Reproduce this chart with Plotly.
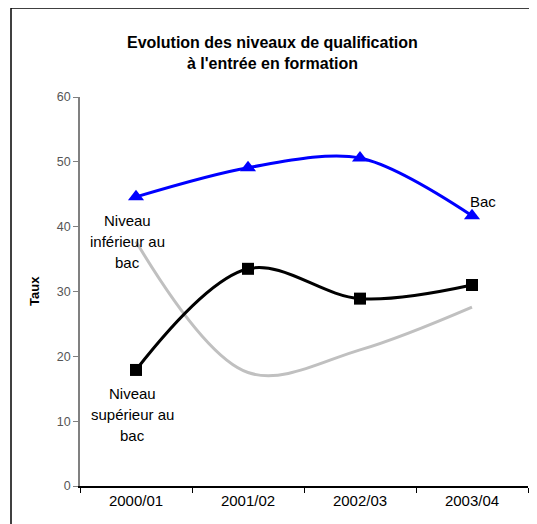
import plotly.graph_objects as go

categories = ["2000/01", "2001/02", "2002/03", "2003/04"]
bac = [44.6, 49.1, 50.6, 41.7]
sup_bac = [17.9, 33.5, 28.9, 31.0]
inf_bac = [37.7, 17.5, 21.0, 27.6]
y_ticks = [0, 10, 20, 30, 40, 50, 60]

# page body has an 8px margin; shift everything by that
OFF = 8
L, T, R, B = 80 - OFF, 97 - OFF, 9, 38
W, H = 537 - OFF, 524 - OFF
PW, PH = 448, 389

def px_x(p):
    return (p - 80) / PW

def px_y(p):
    return (486 - p) / PH

fig = go.Figure()
fig.add_trace(go.Scatter(x=categories, y=inf_bac, mode="lines",
                         line=dict(color="#c0c0c0", width=3, shape="spline", smoothing=1)))
fig.add_trace(go.Scatter(x=categories, y=sup_bac, mode="lines+markers",
                         line=dict(color="black", width=3, shape="spline", smoothing=1),
                         marker=dict(symbol="square", size=12, color="black")))
fig.add_trace(go.Scatter(x=categories, y=bac, mode="lines+markers",
                         line=dict(color="#0000ff", width=3, shape="spline", smoothing=0.9),
                         marker=dict(symbol="triangle-up", size=14, color="#0000ff")))

font = "Arial, Liberation Sans, sans-serif"
ann = []

def label(lines, xp, ys):
    for t, yp in zip(lines, ys):
        ann.append(dict(text=t, x=px_x(xp), xref="paper", y=px_y(yp), yref="paper",
                        showarrow=False, font=dict(family=font, size=15, color="black"),
                        xanchor="center", yanchor="middle"))

label(["Niveau", "inférieur au", "bac"], 127, [220, 241, 262])
label(["Niveau", "supérieur au", "bac"], 132, [393, 414, 435])
label(["Bac"], 483, [201])
ann.append(dict(text="<b>Taux</b>", x=px_x(34), xref="paper", y=px_y(291), yref="paper",
                showarrow=False, textangle=-90, font=dict(family=font, size=13, color="black"),
                xanchor="center", yanchor="middle"))
for t, yp in [("<b>Evolution des niveaux de qualification</b>", 42),
              ("<b>à l'entrée en formation</b>", 63)]:
    ann.append(dict(text=t, x=px_x(272), xref="paper", y=px_y(yp), yref="paper",
                    showarrow=False, font=dict(family=font, size=16, color="black"),
                    xanchor="center", yanchor="middle"))

shapes = [
    dict(type="line", xref="paper", yref="paper", x0=px_x(11), x1=px_x(545),
         y0=px_y(8), y1=px_y(8), line=dict(color="black", width=1.5)),
    dict(type="line", xref="paper", yref="paper", x0=px_x(11), x1=px_x(11),
         y0=px_y(8), y1=px_y(540), line=dict(color="black", width=1.5)),
]

fig.update_layout(
    width=W, height=H,
    margin=dict(l=L, r=R, t=T, b=B),
    paper_bgcolor="white", plot_bgcolor="white",
    showlegend=False,
    annotations=ann, shapes=shapes,
    font=dict(family=font),
    xaxis=dict(type="category", range=[-0.5, 3.5], showgrid=False, showline=True,
               linecolor="black", linewidth=1.5, ticks="outside", tickson="boundaries",
               ticklen=5, tickcolor="black", tickfont=dict(size=15, color="black"),
               zeroline=False, fixedrange=True),
    yaxis=dict(range=[0, 60], tickvals=y_ticks, showgrid=False, showline=True,
               linecolor="#808080", linewidth=1.5, ticks="outside", ticklen=5,
               tickcolor="#808080", tickfont=dict(size=12.5, color="#555555"),
               zeroline=False, fixedrange=True),
)

fig.write_html("out.html")
